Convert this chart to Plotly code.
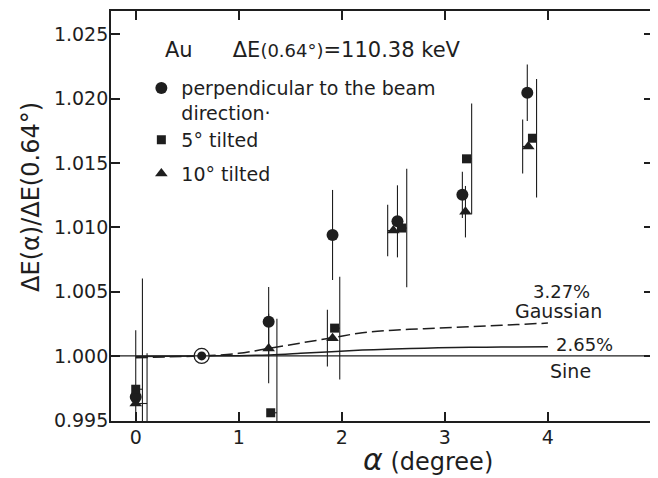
import plotly.graph_objects as go

# ---------------- data ----------------
circle_x = [0.0, 1.29, 1.91, 2.54, 3.17, 3.80]
circle_y = [0.9968, 1.00265, 1.0094, 1.01046, 1.01252, 1.02046]
circle_err = [0.0052, 0.0027, 0.0035, 0.0028, 0.0018, 0.0022]

square_x = [0.0, 1.31, 1.93, 2.58, 3.21, 3.85]
square_y = [0.99741, 0.99558, 1.00216, 1.00994, 1.01532, 1.01692]
square_err = [0.0086, 0.0073, 0.0040, 0.0046, 0.0043, 0.0046]

triangle_x = [0.0, 1.29, 1.91, 2.50, 3.20, 3.81]
triangle_y = [0.9963, 1.00057, 1.00138, 1.00974, 1.01121, 1.01628]
triangle_err = [0.0039, 0.0027, 0.0022, 0.0020, 0.0020, 0.0021]

ref_x = [0.64]
ref_y = [1.0]

curve_x = [0.0, 0.3, 0.64, 1.0, 1.3, 1.6, 1.9, 2.2, 2.5, 2.8, 3.1, 3.4, 3.7, 4.0]
gauss_y = [0.99985, 0.99992, 1.0, 1.0002, 1.0006, 1.0010, 1.0014, 1.0018, 1.0020,
           1.00212, 1.00222, 1.00233, 1.00244, 1.00255]
sine265_y = [0.99995, 0.99997, 1.0, 1.00002, 1.00008, 1.0002, 1.00033, 1.00045,
             1.00053, 1.0006, 1.00065, 1.00068, 1.0007, 1.00072]

x_ticks = [0, 1, 2, 3, 4]
y_ticks = [0.995, 1.000, 1.005, 1.010, 1.015, 1.020, 1.025]

# horizontal displacement of drawn error bars (styling only)
circle_shift = [0.0, 0.0, 0.0, 0.0, 0.0, 0.0]
square_shift = [0.065, 0.06, 0.05, 0.05, 0.05, 0.04]
triangle_shift = [0.11, 0.0, -0.05, -0.055, 0.0, -0.055]

INK = "#1e1e1e"
FONT = "DejaVu Sans"


def bar_path(xs, ys, es, shifts):
    px, py = [], []
    for x, y, e, d in zip(xs, ys, es, shifts):
        if d != 0:
            px += [x, x + d, None]
            py += [y, y, None]
        px += [x + d, x + d, None]
        py += [y - e, y + e, None]
    return px, py


fig = go.Figure()

# error bars
for xs, ys, es, sh in [(circle_x, circle_y, circle_err, circle_shift),
                       (square_x, square_y, square_err, square_shift),
                       (triangle_x, triangle_y, triangle_err, triangle_shift)]:
    bx, by = bar_path(xs, ys, es, sh)
    fig.add_trace(go.Scatter(x=bx, y=by, mode="lines", showlegend=False,
                             line=dict(color=INK, width=1.1), hoverinfo="skip"))

# theory curves
fig.add_trace(go.Scatter(x=curve_x, y=gauss_y, mode="lines", showlegend=False,
                         line=dict(color=INK, width=1.5, dash="12px,5px", shape="spline")))
fig.add_trace(go.Scatter(x=curve_x, y=sine265_y, mode="lines", showlegend=False,
                         line=dict(color=INK, width=1.5, shape="spline")))

# data markers (each in its own legend box)
fig.add_trace(go.Scatter(x=circle_x, y=circle_y, mode="markers",
                         name="perpendicular to the beam<br>direction·", legend="legend",
                         marker=dict(symbol="circle", size=12, color=INK)))
fig.add_trace(go.Scatter(x=square_x, y=square_y, mode="markers", name="5° tilted",
                         legend="legend2",
                         marker=dict(symbol="square", size=9, color=INK)))
fig.add_trace(go.Scatter(x=triangle_x, y=triangle_y, mode="markers", name="10° tilted",
                         legend="legend3",
                         marker=dict(symbol="triangle-up", size=11, color=INK)))

# reference point
fig.add_trace(go.Scatter(x=ref_x, y=ref_y, mode="markers", showlegend=False,
                         marker=dict(symbol="circle", size=15, color="white",
                                     line=dict(color=INK, width=1.3))))
fig.add_trace(go.Scatter(x=ref_x, y=ref_y, mode="markers", showlegend=False,
                         marker=dict(symbol="circle", size=9, color=INK)))

# sine baseline
fig.add_shape(type="line", xref="paper", yref="y", x0=0, x1=1, y0=1.0, y1=1.0,
              line=dict(color=INK, width=1.4))

ann = [
    dict(text="Au&nbsp;&nbsp;&nbsp;&nbsp;&nbsp;&nbsp;ΔE<span style='font-size:18px'>(0.64°)</span>=110.38 keV",
         xref="paper", yref="paper", x=0.0968, y=0.906, xanchor="left", yanchor="middle",
         font=dict(size=21)),
    dict(text="3.27%", xref="x", yref="y", x=4.135, y=1.00501, font=dict(size=18)),
    dict(text="Gaussian", xref="x", yref="y", x=4.10, y=1.0035, font=dict(size=19)),
    dict(text="2.65%", xref="x", yref="y", x=4.36, y=1.00091, font=dict(size=18)),
    dict(text="Sine", xref="x", yref="y", x=4.215, y=0.99883, font=dict(size=19)),
    dict(text="ΔE(α)/ΔE(0.64°)", xref="paper", yref="paper", x=-0.148, y=0.546,
         xanchor="center", yanchor="middle", textangle=-90, font=dict(size=24)),
    dict(text="<span style='font-size:30px'><i>α</i></span> (degree)", xref="paper", yref="paper",
         x=0.585, y=-0.0934, xanchor="center", yanchor="middle", font=dict(size=24)),
]
for a in ann:
    a.setdefault("showarrow", False)
    a["font"] = dict(family=FONT, color=INK, size=a["font"]["size"])
    fig.add_annotation(**a)

axis_common = dict(showline=True, linecolor=INK, linewidth=1.8, mirror="ticks",
                   ticks="inside", ticklen=9, tickwidth=1.5, tickcolor=INK,
                   showgrid=False, zeroline=False, automargin=False,
                   tickfont=dict(family=FONT, size=19, color=INK))

fig.update_xaxes(range=[-0.24, 5.02], tickvals=x_ticks, ticklabelstandoff=-2, **axis_common)
fig.update_yaxes(range=[0.99494, 1.02681], tickvals=y_ticks, tickformat=".3f",
                 ticklabelstandoff=-3, **axis_common)

leg = dict(xanchor="left", yanchor="top", valign="top", bgcolor="rgba(0,0,0,0)",
           font=dict(family=FONT, size=19, color=INK))
# page body adds an 8px margin; the figure is sized so the plot area lands where the reference has it
fig.update_layout(
    width=650, height=470,
    margin=dict(l=102.5, r=5, t=2.7, b=57.3),
    paper_bgcolor="white", plot_bgcolor="white",
    font=dict(family=FONT, color=INK),
    legend=dict(x=0.056, y=0.858, **leg),
    legend2=dict(x=0.056, y=0.732, **leg),
    legend3=dict(x=0.056, y=0.6498, **leg),
)

fig.write_html("out.html")
